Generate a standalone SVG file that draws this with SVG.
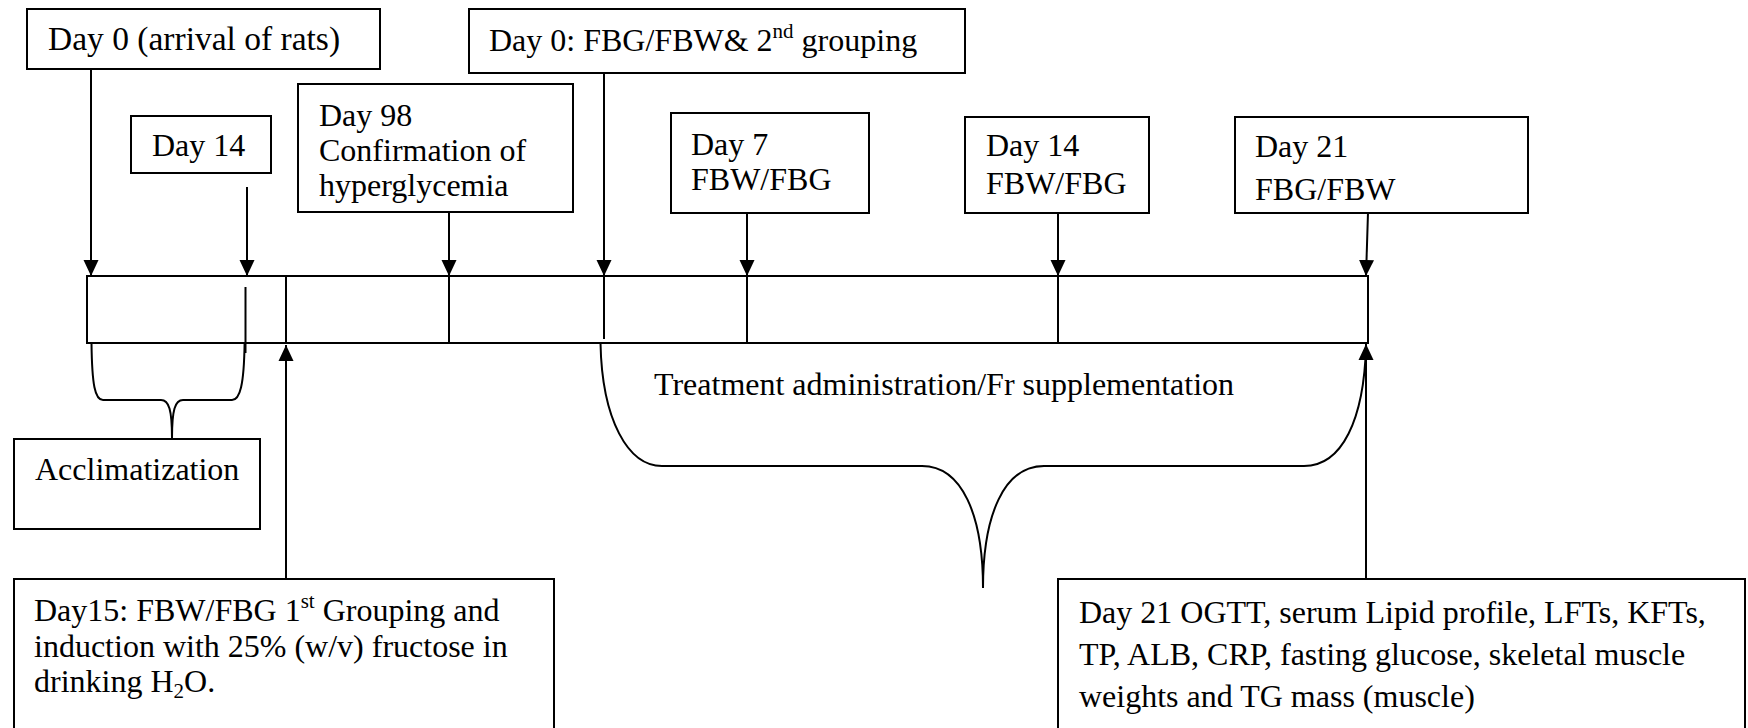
<svg xmlns="http://www.w3.org/2000/svg" width="1748" height="728" viewBox="0 0 1748 728">
<defs>
<style>
.box{fill:#fff;stroke:#000;stroke-width:2}
.ln{fill:none;stroke:#000;stroke-width:2}
text{font-family:"Liberation Serif","Times New Roman",serif;font-size:32px;fill:#000}
.sm{font-size:21px}
</style>
<marker id="arr" viewBox="0 0 16 16" refX="16" refY="8" markerWidth="16" markerHeight="16" markerUnits="userSpaceOnUse" orient="auto">
<path d="M0,0.5 L16,8 L0,15.5 Z" fill="#000"/>
</marker>
</defs>
<rect width="1748" height="728" fill="#fff"/>

<g id="timeline">
<rect class="box" x="87" y="276" width="1281" height="67"/>
<line class="ln" x1="245.5" y1="287" x2="245.5" y2="353"/>
<line class="ln" x1="286" y1="276" x2="286" y2="343"/>
<line class="ln" x1="449" y1="276" x2="449" y2="343"/>
<line class="ln" x1="604" y1="276" x2="604" y2="339"/>
<line class="ln" x1="747" y1="276" x2="747" y2="343"/>
<line class="ln" x1="1058" y1="276" x2="1058" y2="343"/>
</g>

<g id="connectors">
<line class="ln" x1="91" y1="70" x2="91" y2="276" marker-end="url(#arr)"/>
<line class="ln" x1="247" y1="187" x2="247" y2="276" marker-end="url(#arr)"/>
<line class="ln" x1="449" y1="212" x2="449" y2="276" marker-end="url(#arr)"/>
<line class="ln" x1="604" y1="73" x2="604" y2="276" marker-end="url(#arr)"/>
<line class="ln" x1="747" y1="213" x2="747" y2="276" marker-end="url(#arr)"/>
<line class="ln" x1="1058" y1="213" x2="1058" y2="276" marker-end="url(#arr)"/>
<line class="ln" x1="1368" y1="213" x2="1366" y2="276" marker-end="url(#arr)"/>
<line class="ln" x1="286" y1="579" x2="286" y2="345" marker-end="url(#arr)"/>
<line class="ln" x1="1366" y1="579" x2="1366" y2="344" marker-end="url(#arr)"/>
<path class="ln" d="M91.5 343 C92 385 95 400 103 400 L161 400 C169 400 172 410 172 438 C172 410 175 400 183 400 L232 400 C240 400 244 385 244.6 343"/>
<path class="ln" d="M600.5 343 C602 420 628 466 662 466 L922 466 C962 466 983 515 983 588 C983 515 1004 466 1044 466 L1304 466 C1342 466 1364 420 1366 346"/>
</g>

<g id="n-arrival">
<rect class="box" x="27" y="9" width="353" height="60"/>
<text x="48" y="50" style="font-size:33.5px">Day 0 (arrival of rats)</text>
</g>
<g id="n-day14a">
<rect class="box" x="131" y="116" width="140" height="57"/>
<text x="152" y="156">Day 14</text>
</g>
<g id="n-day98">
<rect class="box" x="298" y="84" width="275" height="128"/>
<text x="319" y="126">Day 98</text>
<text x="319" y="161">Confirmation of</text>
<text x="319" y="196">hyperglycemia</text>
</g>
<g id="n-day0b">
<rect class="box" x="469" y="9" width="496" height="64"/>
<text x="489" y="51">Day 0: FBG/FBW&amp; 2<tspan class="sm" dy="-13">nd</tspan><tspan dy="13"> grouping</tspan></text>
</g>
<g id="n-day7">
<rect class="box" x="671" y="113" width="198" height="100"/>
<text x="691" y="155">Day 7</text>
<text x="691" y="190">FBW/FBG</text>
</g>
<g id="n-day14b">
<rect class="box" x="965" y="117" width="184" height="96"/>
<text x="986" y="156">Day 14</text>
<text x="986" y="194">FBW/FBG</text>
</g>
<g id="n-day21">
<rect class="box" x="1235" y="117" width="293" height="96"/>
<text x="1255" y="157">Day 21</text>
<text x="1255" y="200">FBG/FBW</text>
</g>
<g id="n-acclim">
<rect class="box" x="14" y="439" width="246" height="90"/>
<text x="35" y="480">Acclimatization</text>
</g>
<g id="n-treatment">
<text x="654" y="395">Treatment administration/Fr supplementation</text>
</g>
<g id="n-day15">
<rect class="box" x="14" y="579" width="540" height="170"/>
<text x="34" y="621">Day15: FBW/FBG 1<tspan class="sm" dy="-13">st</tspan><tspan dy="13"> Grouping and</tspan></text>
<text x="34" y="657">induction with 25% (w/v) fructose in</text>
<text x="34" y="692">drinking H<tspan class="sm" dy="6">2</tspan><tspan dy="-6">O.</tspan></text>
</g>
<g id="n-day21b">
<rect class="box" x="1058" y="579" width="687" height="170"/>
<text x="1079" y="623">Day 21 OGTT, serum Lipid profile, LFTs, KFTs,</text>
<text x="1079" y="665">TP, ALB, CRP, fasting glucose, skeletal muscle</text>
<text x="1079" y="707">weights and TG mass (muscle)</text>
</g>
</svg>
